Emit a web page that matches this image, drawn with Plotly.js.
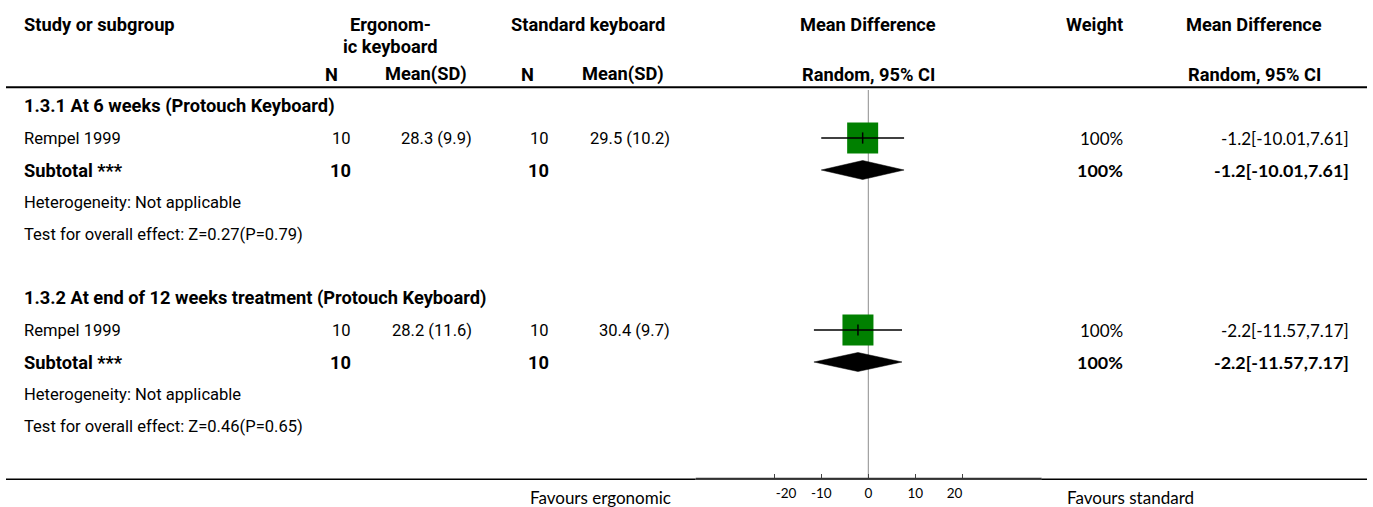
<!DOCTYPE html>
<html>
<head>
<meta charset="utf-8">
<script src="https://cdn.plot.ly/plotly-3.0.1.min.js"></script>
<style>html,body{margin:0;padding:0;background:#fff;}#chart{width:1373px;height:507px;}</style>
</head>
<body>
<div id="chart"></div>
<script>
// ---------------- data ----------------
const subgroupTitles = ['1.3.1 At 6 weeks (Protouch Keyboard)', '1.3.2 At end of 12 weeks treatment (Protouch Keyboard)'];
const studyNames = ['Rempel 1999', 'Rempel 1999'];
const ergoN = [10, 10];
const ergoMeanSD = ['28.3 (9.9)', '28.2 (11.6)'];
const stdN = [10, 10];
const stdMeanSD = ['29.5 (10.2)', '30.4 (9.7)'];
const studyWeight = [100, 100];
const studyMD = [-1.2, -2.2];
const studyLow = [-10.01, -11.57];
const studyHigh = [7.61, 7.17];
const subtotalN1 = [10, 10];
const subtotalN2 = [10, 10];
const subtotalWeight = [100, 100];
const subtotalMD = [-1.2, -2.2];
const subtotalLow = [-10.01, -11.57];
const subtotalHigh = [7.61, 7.17];
const heterogeneity = ['Not applicable', 'Not applicable'];
const overallEffect = ['Z=0.27(P=0.79)', 'Z=0.46(P=0.65)'];
const tickValues = [-20, -10, 0, 10, 20];
const tickLabels = ['-20', '-10', '0', '10', '20'];
const favoursLeft = 'Favours ergonomic';
const favoursRight = 'Favours standard';

// ---------------- geometry ----------------
const W = 1373, H = 507;
const ROW0 = 106, ROWH = 32;           // pixel centre of first row, row height
const AXIS_Y = 478.5;                   // pixel y of the x axis line
const rowOf = p => (p - ROW0) / ROWH;   // pixel -> row units
const px = x => x / W;
const py = y => 1 - y / H;

const ctx = document.createElement('canvas').getContext('2d');
function fitSize(text, weight, family, target) {
  ctx.font = weight + ' 100px ' + family;
  return 100 * target / ctx.measureText(text).width;
}
const FS = 'Roboto', FC = 'Lato';
const SB = fitSize('Study or subgroup', 'bold', FS, 150.7);
const SR = fitSize('Rempel 1999', 'normal', FS, 97);
const CR = (fitSize('Favours standard', 'normal', FC, 133) + fitSize('-1.2[-10.01,7.61]', 'normal', FC, 122)) / 2;
const CB = fitSize('-1.2[-10.01,7.61]', 'bold', FC, 135);
const TK = fitSize('10', 'normal', FC, 15.7);

const ann = [];
function txt(text, x, y, anchor, family, bold, yref) {
  ann.push({
    text: bold ? '<b>' + text + '</b>' : text,
    x: px(x), xref: 'paper', xanchor: anchor,
    y: yref === 'paper' ? py(y) : rowOf(y), yref: yref || 'y', yanchor: 'middle',
    showarrow: false, borderpad: 0,
    font: {family: family, size: bold ? (family === FS ? SB : CB) : (family === FS ? SR : CR), color: '#000'}
  });
}

// header
const hy1 = 24, hy2 = 46, hy3 = 74;
txt('Study or subgroup', 22.7, hy1, 'left', FS, true);
txt('Ergonom-', 390, hy1, 'center', FS, true);
txt('ic keyboard', 390, hy2, 'center', FS, true);
txt('Standard keyboard', 588, hy1, 'center', FS, true);
txt('Mean Difference', 868, hy1, 'center', FS, true);
txt('Weight', 1124, hy1, 'right', FS, true);
txt('Mean Difference', 1254, hy1, 'center', FS, true);
txt('N', 331.5, hy3, 'center', FS, true);
txt('Mean(SD)', 468, hy3, 'right', FS, true);
txt('N', 527.5, hy3, 'center', FS, true);
txt('Mean(SD)', 665, hy3, 'right', FS, true);
txt('Random, 95% CI', 868, hy3, 'center', FS, true);
txt('Random, 95% CI', 1254, hy3, 'center', FS, true);

// body
const studyRows = [], subtotalRows = [];
for (let g = 0; g < subgroupTitles.length; g++) {
  const base = g * 6;
  const yp = r => ROW0 + ROWH * (base + r);
  txt(subgroupTitles[g], 22.7, yp(0), 'left', FS, true);
  txt(studyNames[g], 22.7, yp(1), 'left', FS, false);
  txt(String(ergoN[g]), 352, yp(1), 'right', FS, false);
  txt(ergoMeanSD[g], 473, yp(1), 'right', FS, false);
  txt(String(stdN[g]), 550, yp(1), 'right', FS, false);
  txt(stdMeanSD[g], 671, yp(1), 'right', FS, false);
  txt(studyWeight[g] + '%', 1124, yp(1), 'right', FC, false);
  txt(studyMD[g] + '[' + studyLow[g] + ',' + studyHigh[g] + ']', 1350, yp(1), 'right', FC, false);
  txt('Subtotal ***', 22.7, yp(2), 'left', FS, true);
  txt(String(subtotalN1[g]), 352, yp(2), 'right', FS, true);
  txt(String(subtotalN2[g]), 550, yp(2), 'right', FS, true);
  txt(subtotalWeight[g] + '%', 1124, yp(2), 'right', FC, true);
  txt(subtotalMD[g] + '[' + subtotalLow[g] + ',' + subtotalHigh[g] + ']', 1350, yp(2), 'right', FC, true);
  txt('Heterogeneity: ' + heterogeneity[g], 22.7, yp(3), 'left', FS, false);
  txt('Test for overall effect: ' + overallEffect[g], 22.7, yp(4), 'left', FS, false);
  studyRows.push(base + 1);
  subtotalRows.push(base + 2);
}

// footer
txt(favoursLeft, 672, 497.5, 'right', FC, false, 'paper');
txt(favoursRight, 1065.7, 497.5, 'left', FC, false, 'paper');

// ---------------- traces ----------------
const traces = [];
// squares (size scaled by weight)
traces.push({
  type: 'scatter', mode: 'markers', x: studyMD, y: studyRows, opacity: 1,
  marker: {symbol: 'square', color: '#008000', opacity: 1, size: studyWeight.map(w => 31 * Math.sqrt(w / 100)), line: {width: 0}},
  hoverinfo: 'skip'
});
// CI lines
const ciX = [], ciY = [];
studyMD.forEach((m, i) => { ciX.push(studyLow[i], studyHigh[i], null); ciY.push(studyRows[i], studyRows[i], null); });
traces.push({type: 'scatter', mode: 'lines', x: ciX, y: ciY, line: {color: '#000', width: 1.5}, hoverinfo: 'skip'});
// estimate ticks
traces.push({
  type: 'scatter', mode: 'markers', x: studyMD, y: studyRows,
  marker: {symbol: 'line-ns', size: 8, opacity: 1, line: {color: '#000', width: 1.5}}, hoverinfo: 'skip'
});
// diamonds
const dh = 9.5 / ROWH;
subtotalMD.forEach((m, i) => {
  const r = subtotalRows[i];
  traces.push({
    type: 'scatter', mode: 'lines', fill: 'toself', fillcolor: '#000',
    x: [subtotalLow[i], m, subtotalHigh[i], m, subtotalLow[i]],
    y: [r, r - dh, r, r + dh, r],
    line: {color: '#000', width: 0.5}, hoverinfo: 'skip'
  });
});

// ---------------- layout ----------------
const axL = 695.7, axR = 1041.7, zeroPx = 868.3, pxPerUnit = 4.7;
const layout = {
  width: W, height: H,
  margin: {l: 0, r: 0, t: 0, b: 0, pad: 0},
  paper_bgcolor: '#fff', plot_bgcolor: 'rgba(0,0,0,0)',
  showlegend: false,
  xaxis: {
    domain: [px(axL), px(axR)],
    range: [(axL - zeroPx) / pxPerUnit, (axR - zeroPx) / pxPerUnit],
    showgrid: false, zeroline: false, fixedrange: true,
    showline: true, linecolor: '#444', linewidth: 1,
    ticks: 'inside', ticklen: 5, tickwidth: 1, tickcolor: '#444',
    tickvals: tickValues,
    ticktext: tickLabels.map((t, i) => i === 0 ? '\u2007\u2007\u2007' + t : (i === tickLabels.length - 1 ? t + '\u2007\u2007' : t)),
    tickfont: {family: FC, size: TK, color: '#000'},
    ticklabelstandoff: 2
  },
  yaxis: {
    domain: [1 - AXIS_Y / H, 1],
    range: [rowOf(AXIS_Y), rowOf(0)],
    visible: false, fixedrange: true
  },
  shapes: [
    {type: 'line', xref: 'paper', yref: 'paper', x0: px(6), x1: px(1367), y0: py(87.3), y1: py(87.3), line: {color: '#000', width: 2}},
    {type: 'line', xref: 'paper', yref: 'paper', x0: px(6), x1: px(axL), y0: py(479.3), y1: py(479.3), line: {color: '#000', width: 1.5}},
    {type: 'line', xref: 'paper', yref: 'paper', x0: px(axR), x1: px(1367), y0: py(479.3), y1: py(479.3), line: {color: '#000', width: 1.5}},
    {type: 'line', xref: 'paper', yref: 'paper', x0: px(axL), x1: px(axR), y0: py(AXIS_Y), y1: py(AXIS_Y), line: {color: '#333', width: 1.5}},
    {type: 'line', xref: 'x', yref: 'paper', x0: 0, x1: 0, y0: py(90), y1: py(AXIS_Y), line: {color: '#8c8c8c', width: 1}, layer: 'below'}
  ],
  annotations: ann
};

Plotly.newPlot('chart', traces, layout, {staticPlot: true, displayModeBar: false});
</script>
</body>
</html>
